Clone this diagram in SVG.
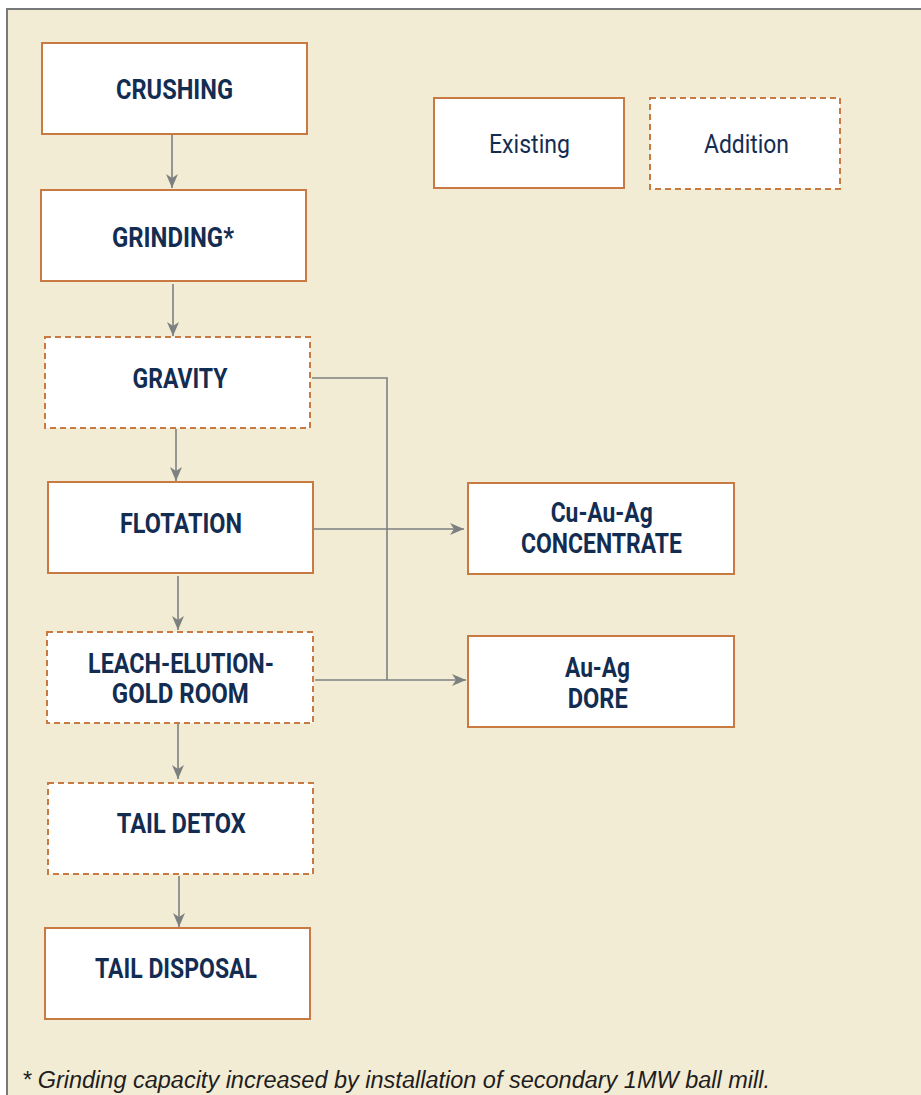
<svg xmlns="http://www.w3.org/2000/svg" width="921" height="1095" viewBox="0 0 921 1095">
<style>
.box{fill:#fff;stroke:#c87a42;stroke-width:2}
.dash{stroke-dasharray:6,4}
.t{font-family:Roboto,"Liberation Sans",sans-serif;font-weight:bold;font-size:27px;fill:#132d52;text-anchor:middle}
.l{font-family:Roboto,"Liberation Sans",sans-serif;font-size:26px;fill:#132d52;text-anchor:middle}
.c{fill:none;stroke:#7d8080;stroke-width:1.6}
</style>
<defs>
<marker id="ah" viewBox="0 0 14 12" refX="14" refY="6" markerWidth="14" markerHeight="12" markerUnits="userSpaceOnUse" orient="auto">
<path d="M0,0 L14,6 L0,12 L4,6 Z" fill="#7d8080"/>
</marker>
</defs>
<rect x="0" y="0" width="921" height="1095" fill="#fff"/>
<rect x="7" y="9" width="914" height="1086" fill="#f3ecd5"/>
<path d="M7,1095 V9 H921" fill="none" stroke="#76797a" stroke-width="2"/>
<g id="connectors">
<line class="c" x1="172" y1="135" x2="172" y2="188" marker-end="url(#ah)"/>
<line class="c" x1="173" y1="284" x2="173" y2="336" marker-end="url(#ah)"/>
<line class="c" x1="176" y1="429" x2="176" y2="481" marker-end="url(#ah)"/>
<line class="c" x1="178" y1="576" x2="178" y2="630" marker-end="url(#ah)"/>
<line class="c" x1="178" y1="724" x2="178" y2="779" marker-end="url(#ah)"/>
<line class="c" x1="179" y1="876" x2="179" y2="927" marker-end="url(#ah)"/>
<polyline class="c" points="312,378 387,378 387,680"/>
<line class="c" x1="313" y1="529" x2="464" y2="529" marker-end="url(#ah)"/>
<line class="c" x1="315" y1="680" x2="466" y2="680" marker-end="url(#ah)"/>
</g>
<g id="crushing"><rect class="box" x="42" y="43" width="265" height="91"/><text class="t" x="174.5" y="99" textLength="117" lengthAdjust="spacingAndGlyphs">CRUSHING</text></g>
<g id="grinding"><rect class="box" x="41" y="190" width="265" height="91"/><text class="t" x="173" y="246.5" textLength="122" lengthAdjust="spacingAndGlyphs">GRINDING*</text></g>
<g id="gravity"><rect class="box dash" x="45" y="337" width="265" height="91"/><text class="t" x="180" y="387.5" textLength="95" lengthAdjust="spacingAndGlyphs">GRAVITY</text></g>
<g id="flotation"><rect class="box" x="48" y="482" width="265" height="91"/><text class="t" x="181" y="532.5" textLength="122" lengthAdjust="spacingAndGlyphs">FLOTATION</text></g>
<g id="leach"><rect class="box dash" x="47" y="632" width="266" height="91"/><text class="t" x="181" y="672.5" textLength="186" lengthAdjust="spacingAndGlyphs">LEACH-ELUTION-</text><text class="t" x="180.3" y="703" textLength="137" lengthAdjust="spacingAndGlyphs">GOLD ROOM</text></g>
<g id="taildetox"><rect class="box dash" x="48" y="783" width="265" height="91"/><text class="t" x="181.3" y="833" textLength="129" lengthAdjust="spacingAndGlyphs">TAIL DETOX</text></g>
<g id="taildisposal"><rect class="box" x="45" y="928" width="265" height="91"/><text class="t" x="176" y="977.5" textLength="162" lengthAdjust="spacingAndGlyphs">TAIL DISPOSAL</text></g>
<g id="concentrate"><rect class="box" x="468" y="483" width="266" height="91"/><text class="t" x="601.7" y="522" textLength="102" lengthAdjust="spacingAndGlyphs">Cu-Au-Ag</text><text class="t" x="601.5" y="552.5" textLength="161" lengthAdjust="spacingAndGlyphs">CONCENTRATE</text></g>
<g id="dore"><rect class="box" x="468" y="636" width="266" height="91"/><text class="t" x="597.5" y="677" textLength="65" lengthAdjust="spacingAndGlyphs">Au-Ag</text><text class="t" x="597.7" y="708" textLength="60" lengthAdjust="spacingAndGlyphs">DORE</text></g>
<g id="existing"><rect class="box" x="434" y="98" width="190" height="90"/><text class="l" x="529.5" y="152.5" textLength="81" lengthAdjust="spacingAndGlyphs">Existing</text></g>
<g id="addition"><rect class="box dash" x="650" y="98" width="190" height="91"/><text class="l" x="746.5" y="152.5" textLength="85" lengthAdjust="spacingAndGlyphs">Addition</text></g>
<text x="22" y="1088" font-family="'Liberation Sans',Arial,sans-serif" font-style="italic" font-size="23" fill="#1e1e1e" textLength="748" lengthAdjust="spacingAndGlyphs">* Grinding capacity increased by installation of secondary 1MW ball mill.</text>
</svg>
